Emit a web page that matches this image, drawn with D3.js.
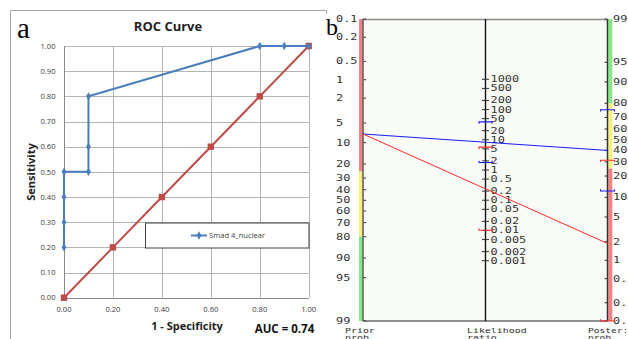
<!DOCTYPE html>
<html><head><meta charset="utf-8">
<script src="https://cdn.jsdelivr.net/npm/d3@7"></script>
<style>html,body{margin:0;padding:0;background:#fff;}svg{display:block;}</style>
</head><body>
<svg id="c" width="628" height="339"></svg>
<script>
// ---------- Panel a data ----------
const rocFpr = [0, 0, 0, 0, 0.1, 0.1, 0.1, 0.8, 0.9, 1.0];
const rocTpr = [0.2, 0.3, 0.4, 0.5, 0.5, 0.6, 0.8, 1.0, 1.0, 1.0];
const refFpr = [0, 0.2, 0.4, 0.6, 0.8, 1.0];
const refTpr = [0, 0.2, 0.4, 0.6, 0.8, 1.0];
const xTickVals = [0, 0.2, 0.4, 0.6, 0.8, 1.0];
const yTickVals = [0, 0.1, 0.2, 0.3, 0.4, 0.5, 0.6, 0.7, 0.8, 0.9, 1.0];
const seriesName = "Smad 4_nuclear";
const aucText = "AUC = 0.74";

// ---------- Panel b data (Fagan nomogram) ----------
const probTicks = [0.1, 0.2, 0.5, 1, 2, 5, 10, 20, 30, 40, 50, 60, 70, 80, 90, 95, 99];
const probTickLabels = ["0.1","0.2","0.5","1","2","5","10","20","30","40","50","60","70","80","90","95","99"];
const lrTicks = [1000, 500, 200, 100, 50, 20, 10, 5, 2, 1, 0.5, 0.2, 0.1, 0.05, 0.02, 0.01, 0.005, 0.002, 0.001];
const lrTickLabels = ["1000","500","200","100","50","20","10","5","2","1","0.5","0.2","0.1","0.05","0.02","0.01","0.005","0.002","0.001"];
const probBands = [0.1, 25, 80, 99]; // red / yellow / green
const priorProb = 7.4;
const lrPos = 8.3, lrPosCI = [1.77, 39];
const lrNeg = 0.24, lrNegCI = [0.0102, 5.7];

const svg = d3.select("#c");
const logit = p => Math.log((p/100) / (1 - p/100));

// ================= Panel a =================
const gA = svg.append("g");
gA.append("path").attr("d", "M10.5,339 V10.5 H326.5 V14").attr("fill","none").attr("stroke","#a6a6a6");

const x = d3.scaleLinear().domain([0,1]).range([64, 308.7]);
const y = d3.scaleLinear().domain([0,1]).range([297.7, 46]);
const font = "'Open Sans', 'Liberation Sans', sans-serif";

gA.append("text").attr("x",17).attr("y",37.5).attr("font-family","'Liberation Serif', serif").attr("font-size",29).attr("fill","#000").text("a");
gA.append("text").attr("x",168).attr("y",30.7).attr("text-anchor","middle").attr("font-family",font).attr("font-weight","bold").attr("font-size",13).attr("fill","#222").text("ROC Curve");

// grid
gA.selectAll(".hg").data(yTickVals).enter().append("line")
  .attr("x1", x(0)).attr("x2", x(1)).attr("y1", d=>Math.round(y(d))+0.5).attr("y2", d=>Math.round(y(d))+0.5)
  .attr("stroke","#b4b4b4");
gA.selectAll(".vg").data(xTickVals).enter().append("line")
  .attr("y1", y(0)).attr("y2", y(1)).attr("x1", d=>Math.round(x(d))+0.5).attr("x2", d=>Math.round(x(d))+0.5)
  .attr("stroke","#b4b4b4");
// axes
gA.append("line").attr("x1",x(0)).attr("x2",x(1)).attr("y1",Math.round(y(0))+0.5).attr("y2",Math.round(y(0))+0.5).attr("stroke","#8a8a8a");
gA.append("line").attr("x1",Math.round(x(0))+0.5).attr("x2",Math.round(x(0))+0.5).attr("y1",y(0)).attr("y2",y(1)).attr("stroke","#8a8a8a");

gA.selectAll(".yl").data(yTickVals).enter().append("text")
  .attr("x", 55.5).attr("y", d=>y(d)).attr("dy","0.35em").attr("text-anchor","end")
  .attr("font-family",font).attr("font-size",7.6).attr("fill","#404040").text(d=>d.toFixed(2));
gA.selectAll(".xl").data(xTickVals).enter().append("text")
  .attr("x", d=>x(d)).attr("y", 309.5).attr("dy","0.35em").attr("text-anchor","middle")
  .attr("font-family",font).attr("font-size",7.6).attr("fill","#404040").text(d=>d.toFixed(2));

gA.append("text").attr("transform","translate(34.5,172) rotate(-90)").attr("text-anchor","middle")
  .attr("font-family",font).attr("font-weight","bold").attr("font-size",11).attr("fill","#222").text("Sensitivity");
gA.append("text").attr("x",187).attr("y",329.5).attr("text-anchor","middle")
  .attr("font-family",font).attr("font-weight","bold").attr("font-size",11).attr("fill","#222").text("1 - Specificity");
gA.append("text").attr("x",284.5).attr("y",332.7).attr("text-anchor","middle")
  .attr("font-family",font).attr("font-weight","bold").attr("font-size",11.5).attr("fill","#111").text(aucText);

const line = d3.line().x(d=>x(d[0])).y(d=>y(d[1]));
const refPts = refFpr.map((v,i)=>[v, refTpr[i]]);
const rocPts = rocFpr.map((v,i)=>[v, rocTpr[i]]);
const red = "#be4b48", blue = "#4a7ebb";
gA.append("path").datum(refPts).attr("d", line).attr("fill","none").attr("stroke",red).attr("stroke-width",2);
gA.selectAll(".rm").data(refPts).enter().append("rect")
  .attr("x", d=>x(d[0])-3.2).attr("y", d=>y(d[1])-3.2).attr("width",6.4).attr("height",6.4).attr("fill",red);
gA.append("path").datum(rocPts).attr("d", line).attr("fill","none").attr("stroke",blue).attr("stroke-width",2);
const diamond = d3.symbol().type(d3.symbolDiamond).size(20);
gA.selectAll(".bm").data(rocPts).enter().append("path")
  .attr("transform", d=>`translate(${x(d[0])},${y(d[1])})`).attr("d", diamond).attr("fill",blue);

// legend
gA.append("rect").attr("x",145.5).attr("y",223).attr("width",163.5).attr("height",25).attr("fill","#fff").attr("stroke","#404040");
gA.append("line").attr("x1",191).attr("x2",207).attr("y1",235.5).attr("y2",235.5).attr("stroke",blue).attr("stroke-width",2);
gA.append("path").attr("transform","translate(199,235.5)").attr("d",diamond).attr("fill",blue);
gA.append("text").attr("x",209).attr("y",235.7).attr("dy","0.35em").attr("font-family",font).attr("font-size",7.6).attr("fill","#404040").text(seriesName);

// ================= Panel b =================
const gB = svg.append("g");
gB.append("rect").attr("x",322).attr("y",14).attr("width",306).attr("height",325).attr("fill","#fff");
const xL = 363, xM = 485.5, xR = 607.5, yTop = 19, yBot = 321;
gB.append("rect").attr("x",xL).attr("y",yTop).attr("width",xR-xL).attr("height",yBot-yTop).attr("fill","#f9fbf6");

const lDom = [logit(0.1), logit(99)];
const yLeft = d3.scaleLinear().domain(lDom).range([yTop, yBot]);
const yRight = d3.scaleLinear().domain(lDom).range([yBot, yTop]);
const yMid = d3.scaleLog().domain([0.001, 1000])
  .range([(yLeft(0)+yRight(0))/2 + (yBot-yTop)/(lDom[1]-lDom[0])/2*Math.log(1000),
          (yLeft(0)+yRight(0))/2 - (yBot-yTop)/(lDom[1]-lDom[0])/2*Math.log(1000)]);

const bandCol = ["#f58282", "#f7f17c", "#82ea82"];
const bands = d3.range(3).map(i=>[probBands[i], probBands[i+1], bandCol[i]]);
gB.selectAll(".lb").data(bands).enter().append("rect")
  .attr("x",359).attr("width",3.6)
  .attr("y", d=>yLeft(logit(d[0]))).attr("height", d=>yLeft(logit(d[1]))-yLeft(logit(d[0]))).attr("fill", d=>d[2]);
gB.selectAll(".rb").data(bands).enter().append("rect")
  .attr("x",608.3).attr("width",4)
  .attr("y", d=>yRight(logit(d[1]))).attr("height", d=>yRight(logit(d[0]))-yRight(logit(d[1]))).attr("fill", d=>d[2]);

gB.append("line").attr("x1",xL).attr("x2",xR).attr("y1",yTop+0.5).attr("y2",yTop+0.5).attr("stroke","#8c8c8c").attr("stroke-width",1.3);
gB.append("line").attr("x1",xL).attr("x2",xR).attr("y1",yBot).attr("y2",yBot).attr("stroke","#222").attr("stroke-width",1.2);
gB.append("line").attr("x1",xL).attr("x2",xL).attr("y1",yTop).attr("y2",yBot).attr("stroke","#333").attr("stroke-width",1.2);
gB.append("line").attr("x1",xR).attr("x2",xR).attr("y1",yTop).attr("y2",yBot).attr("stroke","#333").attr("stroke-width",1.5);
gB.append("line").attr("x1",xM).attr("x2",xM).attr("y1",yTop).attr("y2",yBot).attr("stroke","#111").attr("stroke-width",1.4);

const mono = "'DejaVu Sans Mono', 'Liberation Mono', monospace";
function monoText(g, data, xf, yf, tf, fs = 8.2, sx = 1.45) {
  g.selectAll(null).data(data).enter().append("text")
    .attr("transform", (d,i)=>`translate(${xf(d,i)},${yf(d,i)}) scale(${sx},1)`)
    .attr("dy","0.36em").attr("font-family",mono).attr("font-size",fs).attr("fill","#333")
    .text((d,i)=>tf(d,i));
}
// left axis
gB.selectAll(".lt").data(probTicks).enter().append("line")
  .attr("x1",363.5).attr("x2",366).attr("y1",d=>yLeft(logit(d))).attr("y2",d=>yLeft(logit(d))).attr("stroke","#333");
monoText(gB, probTicks, ()=>336, d=>yLeft(logit(d)), (d,i)=>probTickLabels[i]);
// right axis
gB.selectAll(".rt").data(probTicks).enter().append("line")
  .attr("x1",604.5).attr("x2",607).attr("y1",d=>yRight(logit(d))).attr("y2",d=>yRight(logit(d))).attr("stroke","#333");
monoText(gB, probTicks, ()=>613, d=>yRight(logit(d)), (d,i)=>probTickLabels[i]);
// middle axis
gB.selectAll(".mt").data(lrTicks).enter().append("line")
  .attr("x1",482).attr("x2",489).attr("y1",d=>yMid(d)).attr("y2",d=>yMid(d)).attr("stroke","#333");
monoText(gB, lrTicks, ()=>490.5, d=>yMid(d), (d,i)=>lrTickLabels[i]);

// bottom labels
monoText(gB, ["Prior","prob."], ()=>345, (d,i)=>331+i*7, d=>d, 6.4, 1.55);
monoText(gB, ["Likelihood","ratio"], ()=>467, (d,i)=>331+i*7, d=>d, 6.4, 1.55);
monoText(gB, ["Poster:","prob."], ()=>588, (d,i)=>331+i*7, d=>d, 6.4, 1.5);

gB.append("text").attr("x",326).attr("y",35).attr("font-family","'Liberation Serif', serif").attr("font-size",24).attr("fill","#000").text("b");

// nomogram lines
const clampY = v => Math.max(yTop, Math.min(yBot, v));
const lines = [[lrPos, lrPosCI, "#1a1aff"], [lrNeg, lrNegCI, "#ff2a2a"]];
lines.forEach(([lr, ci, col]) => {
  const l0 = logit(priorProb);
  gB.append("line").attr("x1",xL).attr("y1",yLeft(l0)).attr("x2",xR).attr("y2",yRight(l0+Math.log(lr)))
    .attr("stroke",col).attr("stroke-width",1);
  ci.forEach((c, k) => {
    const dir = k === 0 ? -1.8 : 1.8; // lower bracket ends up, upper bracket ends down
    const ym = yMid(c), yr = clampY(yRight(l0+Math.log(c)));
    gB.append("path").attr("d", `M${xM-6.5},${ym+dir} V${ym} H${xM+6.5} V${ym+dir}`).attr("fill","none").attr("stroke",col).attr("stroke-width",1.1);
    gB.append("path").attr("d", `M${xR-7},${yr+dir} V${yr} H${xR+7} V${yr+dir}`).attr("fill","none").attr("stroke",col).attr("stroke-width",1.1);
  });
});
</script>
</body></html>
